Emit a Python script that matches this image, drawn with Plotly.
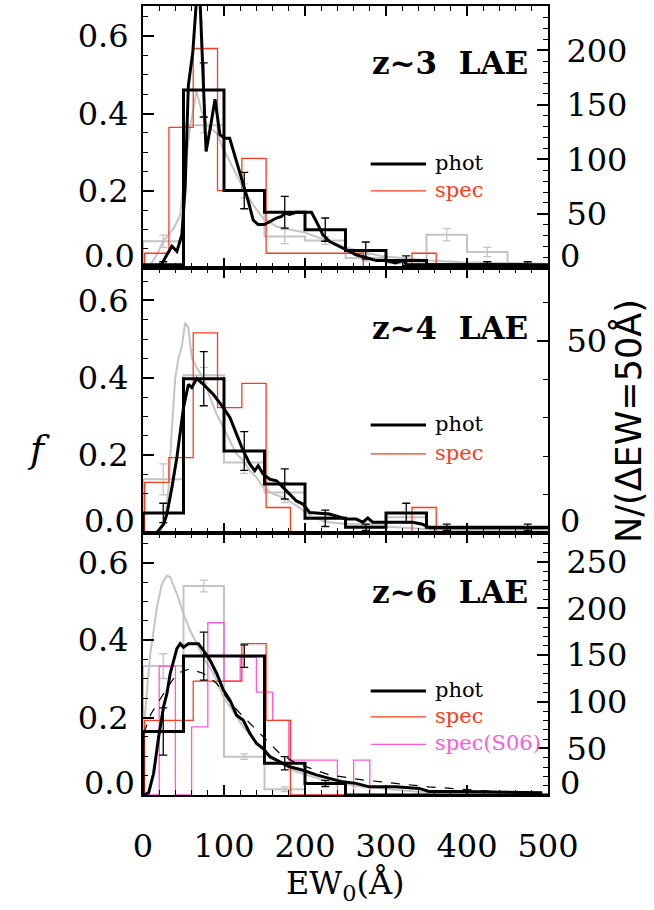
import plotly.graph_objects as go

# ---------------- bins (rest-frame EW, Angstrom) ----------------
edges_50 = [0, 50, 100, 150, 200, 250, 300, 350, 400, 450, 500]
mid_50 = [25, 75, 125, 175, 225, 275, 325, 375, 425, 475]
edges_30 = [2, 32, 62, 92, 122, 152, 182, 212, 242, 272, 302, 332, 362, 392, 422, 452, 482, 512]
edges_20 = [0, 20, 40, 60, 80, 100, 120, 140, 160, 180, 200, 220, 240, 260, 280,
            300, 320, 340, 360, 380, 400, 420, 440, 460, 480, 500]

# ---------------- z~3 ----------------
z3_phot_hist = [0.009, 0.461, 0.201, 0.145, 0.100, 0.046, 0.020, 0.009, 0.009, 0.009]
z3_phot_err = [0.008, 0.070, 0.047, 0.041, 0.030, 0.022, 0.012, 0.0, 0.008, 0.008]
z3_cmp_hist = [0.070, 0.370, 0.200, 0.082, 0.072, 0.027, 0.013, 0.087, 0.042, 0.009]
z3_cmp_err = [0.016, 0.020, 0.018, 0.018, 0.010, 0.008, 0.006, 0.016, 0.012, 0.006]
z3_spec_hist = [0.039, 0.364, 0.568, 0.201, 0.284, 0.039, 0.039, 0.039, 0.039,
                0.0, 0.0, 0.039, 0.0, 0.0, 0.0, 0.0, 0.0]
z3_phot_ew = [1, 21, 29.5, 35.7, 41.8, 48, 52, 56, 61.5, 65.6, 67.6, 70.5, 73.8, 77.9,
              83.6, 88.9, 95, 101, 107, 115.6, 123.8, 130, 136, 142, 150, 156.6, 164.8,
              171, 175, 181, 189, 197.5, 208, 214, 222, 230, 238.5, 251, 263, 275,
              288, 300, 312, 320, 327, 472, 476, 500]
z3_phot_f = [0.0, 0.003, 0.035, 0.057, 0.044, 0.087, 0.207, 0.473, 0.559, 0.688, 0.74,
             0.688, 0.516, 0.302, 0.370, 0.437, 0.345, 0.336, 0.336, 0.276, 0.216,
             0.173, 0.125, 0.113, 0.113, 0.121, 0.130, 0.134, 0.143, 0.139, 0.145,
             0.145, 0.145, 0.121, 0.087, 0.070, 0.061, 0.048, 0.035, 0.028, 0.020,
             0.020, 0.014, 0.020, 0.009, 0.009, 0.0, 0.0]
z3_cmp_ew = [1, 9, 17, 25, 38, 46, 52, 58, 66, 72.5, 78.7, 91, 99, 107, 116, 126, 136,
             148, 165, 181, 197.5, 214, 230, 251, 271, 296, 320, 353, 394, 435, 497]
z3_cmp_f = [0.0, 0.009, 0.035, 0.070, 0.104, 0.138, 0.258, 0.362, 0.458, 0.405, 0.370,
            0.349, 0.310, 0.276, 0.241, 0.198, 0.164, 0.130, 0.108, 0.100, 0.094,
            0.082, 0.071, 0.054, 0.042, 0.031, 0.027, 0.020, 0.016, 0.014, 0.012]

# ---------------- z~4 ----------------
z4_phot_hist = [0.051, 0.398, 0.211, 0.126, 0.037, 0.014, 0.051, 0.014, 0.014, 0.014]
z4_phot_err = [0.025, 0.070, 0.050, 0.039, 0.021, 0.008, 0.025, 0.008, 0.0, 0.008]
z4_cmp_hist = [0.138, 0.407, 0.181, 0.104, 0.040, 0.022, 0.040, 0.009, 0.009, 0.009]
z4_cmp_err = [0.040, 0.020, 0.028, 0.026, 0.012, 0.008, 0.012, 0.005, 0.005, 0.005]
z4_spec_hist = [0.130, 0.194, 0.516, 0.323, 0.386, 0.065, 0.0, 0.0, 0.0, 0.0, 0.0,
                0.065, 0.0, 0.0, 0.0, 0.0, 0.0]
z4_phot_ew = [1, 17, 25.4, 29.5, 35.7, 41.8, 50, 56, 60.2, 66.4, 74.6, 86.9, 99.2,
              107.4, 115.6, 123.8, 132, 138, 142.2, 148.4, 156.6, 164.8, 173, 181,
              189.3, 197.5, 205.7, 218, 230, 238.5, 250.8, 263, 271.3, 277.5, 283.6,
              312, 333, 345, 353, 500]
z4_phot_f = [0.0, 0.0, 0.022, 0.048, 0.117, 0.194, 0.323, 0.383, 0.375, 0.398, 0.383,
             0.357, 0.323, 0.297, 0.254, 0.211, 0.177, 0.160, 0.173, 0.151, 0.138,
             0.134, 0.117, 0.100, 0.082, 0.074, 0.052, 0.050, 0.048, 0.043, 0.035,
             0.035, 0.027, 0.038, 0.027, 0.027, 0.027, 0.022, 0.013, 0.013]
z4_cmp_ew = [1, 21, 27.5, 31.6, 35.7, 39.8, 43.9, 48, 52, 56, 60.2, 66.4, 74.6, 82.8,
             91, 97, 107.4, 115.6, 123.8, 132, 140, 148.4, 160.7, 173, 189.3, 209.8,
             230, 271, 312, 353, 394, 497]
z4_cmp_f = [0.0, 0.0, 0.039, 0.117, 0.271, 0.400, 0.452, 0.482, 0.542, 0.529, 0.452,
            0.426, 0.400, 0.349, 0.306, 0.280, 0.237, 0.203, 0.186, 0.160, 0.143,
            0.117, 0.100, 0.091, 0.070, 0.039, 0.027, 0.018, 0.014, 0.009, 0.007, 0.003]

# ---------------- z~6 ----------------
z6_phot_hist = [0.164, 0.359, 0.359, 0.082, 0.030, 0.0, 0.0, 0.0, 0.0, 0.0]
z6_phot_err = [0.061, 0.062, 0.029, 0.017, 0.008, 0.0, 0.0, 0.0, 0.0, 0.0]
z6_cmp_hist = [0.333, 0.540, 0.099, 0.015, 0.0, 0.0, 0.0, 0.0, 0.0, 0.0]
z6_cmp_err = [0.032, 0.015, 0.007, 0.006, 0.0, 0.0, 0.0, 0.0, 0.0, 0.0]
z6_spec_hist = [0.193, 0.193, 0.294, 0.294, 0.391, 0.193, 0.0, 0.0, 0.0, 0.0, 0.0,
                0.0, 0.0, 0.0, 0.0, 0.0, 0.0]
z6_s06_hist = [0.0, 0.333, 0.0, 0.176, 0.445, 0.294, 0.356, 0.266, 0.193, 0.090,
               0.090, 0.090, 0.0, 0.090, 0.0, 0.0, 0.0, 0.0, 0.0, 0.0, 0.0, 0.0,
               0.0, 0.0, 0.0]
z6_phot_ew = [1, 7, 13.1, 19.3, 25.4, 29.5, 33.6, 37.7, 41.8, 45.9, 50, 56, 62.3, 68.4,
              74.6, 82.8, 91, 99.2, 107.4, 115.6, 123.8, 132, 140.2, 148.4, 156.6,
              164.8, 173, 181, 197.5, 214, 230, 246.7, 263, 279.5, 312, 341, 353, 394,
              493]
z6_phot_f = [0.0, 0.006, 0.056, 0.150, 0.228, 0.262, 0.314, 0.348, 0.378, 0.391, 0.382,
             0.391, 0.391, 0.391, 0.374, 0.348, 0.314, 0.271, 0.245, 0.206, 0.193,
             0.159, 0.133, 0.120, 0.099, 0.090, 0.082, 0.073, 0.064, 0.052, 0.043,
             0.034, 0.030, 0.021, 0.021, 0.017, 0.009, 0.009, 0.006]
z6_model_ew = [1, 10, 25.4, 41.8, 58, 74.6, 91, 107, 124, 148, 169, 189, 230, 271, 312,
               353, 394, 435, 492]
z6_model_f = [0.16, 0.21, 0.262, 0.314, 0.326, 0.314, 0.288, 0.240, 0.202, 0.150, 0.107,
              0.082, 0.052, 0.039, 0.030, 0.021, 0.015, 0.009, 0.003]
z6_cmp_ew = [2, 9, 17.2, 23.4, 29.5, 33.6, 41.8, 50, 58.2, 66.4, 76.6, 86.9, 99.2,
             107.4, 123.8, 148.4, 169, 189.3, 209.8, 230.3, 271.3, 312.3, 353.3]
z6_cmp_f = [0.20, 0.365, 0.485, 0.546, 0.567, 0.563, 0.520, 0.468, 0.425, 0.391, 0.348,
            0.314, 0.253, 0.228, 0.176, 0.116, 0.082, 0.060, 0.047, 0.034, 0.021,
            0.013, 0.006]

# right-axis conversion: number per 50A bin for f = 1
n_scale = {1: 355.0, 2: 101.0, 3: 415.0}

# tick labels
f_ticks = [0.2, 0.4, 0.6]
n_ticks = {1: [50, 100, 150, 200], 2: [50], 3: [50, 100, 150, 200, 250]}

# ---------------- styling ----------------
BLACK = "black"
GREY = "#c4c4c4"
RED = "#ff3a1e"
MAGENTA = "#ff5ad8"
SERIF = "DejaVu Serif"

# plot-area geometry in pixels
W, H = 654, 910
L, R, T, B = 143, 548, 4, 795
P_TOP = [4, 267, 532]
P_BOT = [267, 532, 795]
PX_PER_F = 388.0


def px(xp, yp):
    return (xp - L) / (R - L), (B - yp) / (B - T)


fig = go.Figure()


def axes_of(panel):
    s = "" if panel == 1 else str(panel)
    return f"x{s}", f"y{s}"


def step(edges, vals):
    xs = [edges[0]] + list(edges)
    ys = [0.0] + list(vals) + [vals[-1]]
    return xs, ys


def add_hist(panel, edges, vals, color, width):
    xs, ys = step(edges, vals)
    xa, ya = axes_of(panel)
    fig.add_trace(go.Scatter(x=xs, y=ys, mode="lines", line=dict(color=color, width=width, shape="hv"),
                             xaxis=xa, yaxis=ya, hoverinfo="skip", showlegend=False))


def add_err(panel, mids, vals, errs, color, width):
    xs = [m for m, e in zip(mids, errs) if e > 0]
    ys = [v for v, e in zip(vals, errs) if e > 0]
    es = [e for e in errs if e > 0]
    xa, ya = axes_of(panel)
    fig.add_trace(go.Scatter(x=xs, y=ys, mode="markers", marker=dict(size=1, color=color, opacity=0),
                             error_y=dict(type="data", array=es, color=color, thickness=width, width=4),
                             xaxis=xa, yaxis=ya, hoverinfo="skip", showlegend=False))


def add_curve(panel, xs, ys, color, width, dash="solid"):
    xa, ya = axes_of(panel)
    fig.add_trace(go.Scatter(x=xs, y=ys, mode="lines", line=dict(color=color, width=width, dash=dash),
                             xaxis=xa, yaxis=ya, hoverinfo="skip", showlegend=False))


# z~3 panel
add_hist(1, edges_50, z3_cmp_hist, GREY, 2)
add_err(1, mid_50, z3_cmp_hist, z3_cmp_err, GREY, 1.3)
add_curve(1, z3_cmp_ew, z3_cmp_f, GREY, 2)
add_hist(1, edges_30, z3_spec_hist, RED, 1.3)
add_hist(1, edges_50, z3_phot_hist, BLACK, 3)
add_err(1, mid_50, z3_phot_hist, z3_phot_err, BLACK, 1.3)
add_curve(1, z3_phot_ew, z3_phot_f, BLACK, 3)

# z~4 panel
add_hist(2, edges_50, z4_cmp_hist, GREY, 2)
add_err(2, mid_50, z4_cmp_hist, z4_cmp_err, GREY, 1.3)
add_curve(2, z4_cmp_ew, z4_cmp_f, GREY, 2)
add_hist(2, edges_30, z4_spec_hist, RED, 1.3)
add_hist(2, edges_50, z4_phot_hist, BLACK, 3)
add_err(2, mid_50, z4_phot_hist, z4_phot_err, BLACK, 1.3)
add_curve(2, z4_phot_ew, z4_phot_f, BLACK, 3)

# z~6 panel
add_hist(3, edges_50, z6_cmp_hist, GREY, 2)
add_err(3, mid_50, z6_cmp_hist, z6_cmp_err, GREY, 1.3)
add_curve(3, z6_cmp_ew, z6_cmp_f, GREY, 2)
add_hist(3, edges_20, z6_s06_hist, MAGENTA, 1.3)
add_hist(3, edges_30, z6_spec_hist, RED, 1.3)
add_curve(3, z6_model_ew, z6_model_f, BLACK, 1.2, dash="dash")
add_hist(3, edges_50, z6_phot_hist, BLACK, 3)
add_err(3, mid_50, z6_phot_hist, z6_phot_err, BLACK, 1.3)
add_curve(3, z6_phot_ew, z6_phot_f, BLACK, 3)

# carrier traces so the right-hand count axes are drawn
for i in (1, 2, 3):
    xa, _ = axes_of(i)
    fig.add_trace(go.Scatter(x=[0], y=[0], xaxis=xa, yaxis=f"y{i + 3}", mode="lines",
                             line=dict(width=0), showlegend=False, hoverinfo="skip"))

tick_font = dict(family=SERIF, size=32, color="black")

layout = dict(
    width=W, height=H,
    margin=dict(l=L, r=W - R, t=T, b=H - B, pad=0),
    paper_bgcolor="white", plot_bgcolor="white",
    showlegend=False,
)

total = B - T
for i in (1, 2, 3):
    xa, ya = axes_of(i)
    sfx = xa[1:]
    top, bot = P_TOP[i - 1], P_BOT[i - 1]
    dom = [(B - bot) / total, (B - top) / total]
    fmax = (bot - top) / PX_PER_F
    layout[f"xaxis{sfx}"] = dict(
        domain=[0, 1], anchor=ya, range=[0, 500], showgrid=False, zeroline=False,
        showline=True, linecolor="black", linewidth=2, mirror="ticks",
        ticks="inside", ticklen=10, tickwidth=1.5, tickcolor="black",
        tickmode="linear", tick0=0, dtick=100,
        minor=dict(ticks="inside", ticklen=5, tickwidth=1.3, tickcolor="black", dtick=20, tick0=0),
        showticklabels=(i == 3), tickfont=tick_font, ticklabelstandoff=22,
    )
    layout[f"yaxis{sfx}"] = dict(
        domain=dom, anchor=xa, range=[0, fmax], showgrid=False, zeroline=False,
        showline=True, linecolor="black", linewidth=2,
        ticks="inside", ticklen=11, tickwidth=1.5, tickcolor="black",
        tickmode="array", tickvals=f_ticks, ticktext=[f"{v:.1f}" for v in f_ticks],
        minor=dict(ticks="inside", ticklen=5, tickwidth=1.3, tickcolor="black", dtick=0.05, tick0=0),
        tickfont=tick_font, ticklabelstandoff=6,
    )
    k = n_scale[i]
    layout[f"yaxis{i + 3}"] = dict(
        overlaying=ya, side="right", anchor=xa, range=[0, fmax * k],
        showgrid=False, zeroline=False, showline=True, linecolor="black", linewidth=2,
        ticks="inside", ticklen=11, tickwidth=1.5, tickcolor="black",
        tickmode="array", tickvals=n_ticks[i], ticktext=[str(v) for v in n_ticks[i]],
        minor=dict(ticks="inside", ticklen=5, tickwidth=1.3, tickcolor="black", dtick=10, tick0=0),
        tickfont=tick_font, ticklabelstandoff=10,
    )

fig.update_layout(**layout)

# ---------------- text and legend keys ----------------
annotations = []
shapes = []


def text(xp, yp, s, size, color="black", family=SERIF, xanchor="center", angle=0):
    x, y = px(xp, yp)
    annotations.append(dict(x=x, y=y, xref="paper", yref="paper", text=s, showarrow=False,
                            xanchor=xanchor, yanchor="middle", textangle=angle,
                            font=dict(family=family, size=size, color=color)))


def key(yp, label, color, width):
    x0, y = px(370.7, yp)
    x1, _ = px(426, yp)
    shapes.append(dict(type="line", xref="paper", yref="paper", x0=x0, x1=x1, y0=y, y1=y,
                       line=dict(color=color, width=width)))
    text(432.7, yp - 1, label, 21, color=color, xanchor="left")


# zero labels sit just above each panel's lower edge
for bot in P_BOT:
    text(137, bot - 12, "0.0", 32, xanchor="right")
    text(558, bot - 12, "0", 32, xanchor="left")

for label, yp in (("z~3", 61.5), ("z~4", 326.7), ("z~6", 591)):
    text(530, yp, f"<b>{label}\u00a0\u00a0LAE</b>", 31, xanchor="right")

key(162.3, "phot", BLACK, 3)
key(189.3, "spec", RED, 1.3)
key(424, "phot", BLACK, 3)
key(453, "spec", RED, 1.3)
key(690.7, "phot", BLACK, 3)
key(716.7, "spec", RED, 1.3)
key(744.3, "spec(S06)", MAGENTA, 1.3)

text(345, 885, "EW<sub>0</sub>(Å)", 32)
text(38, 448, "<i>f</i>", 38)
text(628, 420, "N/(ΔEW=50Å)", 35, family="DejaVu Sans", angle=-90)

fig.update_layout(annotations=annotations, shapes=shapes)
fig.write_html("out.html")
